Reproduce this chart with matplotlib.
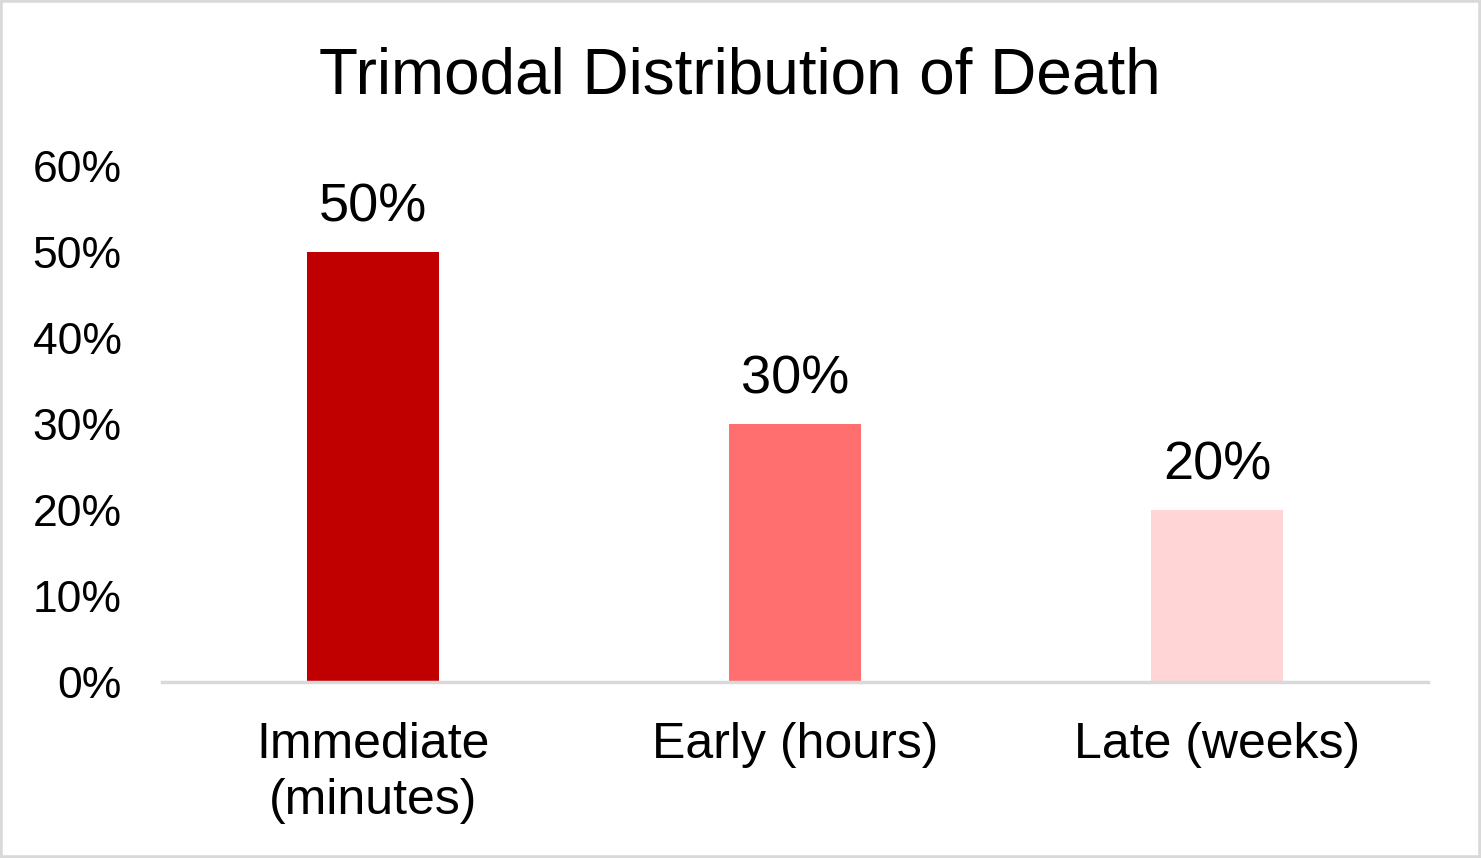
import matplotlib
matplotlib.use("Agg")
import matplotlib.pyplot as plt
from matplotlib.patches import Rectangle
from matplotlib.ticker import FuncFormatter

categories = ["Immediate\n(minutes)", "Early (hours)", "Late (weeks)"]
values = [0.50, 0.30, 0.20]
labels = ["50%", "30%", "20%"]
colors = ["#C00000", "#FF6F6F", "#FFD5D5"]
yticks = [0, 0.1, 0.2, 0.3, 0.4, 0.5, 0.6]

plt.rcParams['font.family'] = ['Liberation Sans', 'DejaVu Sans']

W, H = 1481, 858
fig = plt.figure(figsize=(W / 100, H / 100), dpi=100)
fig.patches.append(Rectangle((0, 0), 1, 1, transform=fig.transFigure,
                             fill=False, edgecolor="#D9D9D9", linewidth=4))

ax = fig.add_axes([162 / W, 176 / H, (1428 - 162) / W, (682 - 166) / H])
x = range(len(categories))
bars = ax.bar(x, values, width=0.3125, color=colors)

for b, lab in zip(bars, labels):
    ax.annotate(lab, (b.get_x() + b.get_width() / 2, b.get_height()),
                xytext=(0, 14), textcoords="offset points",
                ha="center", va="bottom", fontsize=39)

ax.set_xlim(-0.5, 2.5)
ax.set_ylim(0, 0.6)
ax.set_yticks(yticks)
ax.yaxis.set_major_formatter(FuncFormatter(lambda v, p: "%d%%" % round(v * 100)))
ax.set_xticks(list(x))
ax.set_xticklabels(categories, fontsize=36, linespacing=1.28)
ax.tick_params(axis="y", labelsize=32, length=0, pad=29)
ax.tick_params(axis="x", length=0, pad=29)

for s in ["top", "right", "left"]:
    ax.spines[s].set_visible(False)
ax.spines["bottom"].set_color("#D9D9D9")
ax.spines["bottom"].set_linewidth(2.5)

fig.text(740 / W, 1 - 77 / H, "Trimodal Distribution of Death",
         ha="center", va="center", fontsize=46)

fig.savefig("out.png", dpi=100)
